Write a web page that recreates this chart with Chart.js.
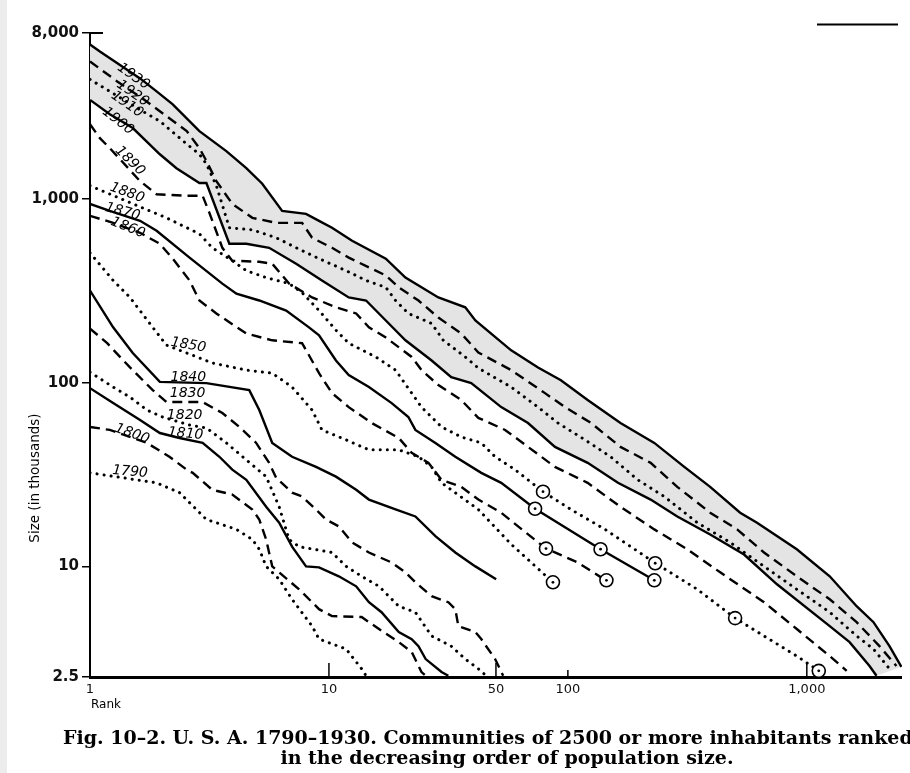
<!DOCTYPE html>
<html><head><meta charset="utf-8">
<script src="https://cdn.jsdelivr.net/npm/chart.js@4.4.0/dist/chart.umd.min.js"></script>
<style>html,body{margin:0;padding:0;background:#fff;}canvas{display:block}</style>
</head><body>
<canvas id="c" width="910" height="773"></canvas>
<script>
// ---- tick labels ----
const xTickVals = [1, 10, 50, 100, 1000];
const xTickText = ['1', '10', '50', '100', '1,000'];
const yTickVals = [2.5, 10, 100, 1000, 8000];
const yTickText = ['2.5', '10', '100', '1,000', '8,000'];

// ---- series: rank (x) and size in thousands (y) ----
const rank1930 = [1,1.10,1.62,1.90,2.22,2.87,3.72,4.51,5.26,6.37,8.02,9.09,10.3,12.5,17.3,20.9,28.7,37.2,41.0,57.9,75.0,93.5,121,166,230,307,394,526,619,908,1247,1616,1901,2218,2489];
const size1930 = [6920,6340,4530,3850,3270,2340,1820,1470,1210,861,829,760,697,592,473,373,291,257,218,150,121,103,80.4,60.3,47.0,34.8,27.1,19.6,17.3,12.4,8.83,6.07,4.97,3.68,2.84];
const rank1920 = [1,1.30,1.66,1.96,2.54,2.87,3.07,3.38,3.94,4.78,6.01,7.72,8.50,10.3,12.1,17.3,19.6,23.7,28.7,35.8,42.2,57.9,80.2,97.2,125,166,222,287,394,511,662,908,1247,1616,2014,2371];
const size1920 = [5600,4360,3520,3000,2340,1890,1610,1250,940,789,741,741,615,542,479,383,330,280,226,185,146,117,87.7,73.6,60.3,44.7,36.6,27.1,19.6,15.9,11.9,8.83,6.62,4.97,3.68,2.87];
const rank1910 = [1,1.21,1.66,1.96,2.54,2.87,3.07,3.38,3.83,4.78,6.01,7.72,9.09,11.8,14.3,17.3,19.0,21.5,26.9,30.1,37.2,42.2,57.9,75.0,90.9,118,151,196,253,348,478,662,908,1247,1616,1901,2218];
const size1910 = [4470,3850,3000,2650,1990,1750,1550,1180,697,679,615,523,473,407,360,330,280,238,210,170,138,120,94.6,73.6,60.3,48.8,39.5,29.6,24.0,17.3,13.5,10.0,7.50,5.63,4.18,3.55,2.77];
const rank1900 = [1,1.21,1.51,1.96,2.30,2.87,3.07,3.83,4.51,5.62,7.29,9.35,12.1,14.3,17.3,20.9,26.9,32.5,39.4,52.6,68.1,88.3,121,162,222,287,394,546,750,1247,1510,1830,1957];
const size1900 = [3460,2890,2430,1750,1470,1220,1220,570,570,542,444,360,291,280,218,170,132,107,99.4,73.6,60.3,44.7,36.6,28.5,23.1,18.7,14.9,11.6,7.99,4.73,3.87,2.87,2.54];
const rank1890 = [1,1.10,1.21,1.62,1.90,2.54,2.96,3.16,3.58,3.94,5.11,5.79,6.81,8.50,10.7,13.0,14.7,17.3,22.2,24.4,28.7,35.8,42.2,54.6,68.1,88.3,121,166,230,316,434,662,908,1247,1468];
const size1890 = [2550,2140,1890,1250,1060,1040,1040,840,542,461,455,444,346,291,257,238,200,176,138,117,97,80.4,64.3,55.3,44.7,34.8,28.5,21.1,15.9,12.4,9.28,6.38,4.56,3.25,2.70];
const rank1880 = [1,1.66,2.09,2.54,2.87,3.25,3.94,4.51,5.46,6.81,7.72,9.09,10.7,12.1,15.7,19.0,22.2,24.4,29.6,35.8,43.4,49.6,60.1,78.7,103,143,230,348,501,662,908,1122];
const size1880 = [1180,894,789,697,646,542,461,407,373,346,309,247,193,164,138,117,87.7,73.6,57.4,50.6,47.0,39.5,33.6,25.5,20.4,15.9,10.5,7.50,5.23,4.18,3.25,2.70];
const rank1870 = [1,1.21,1.62,1.90,2.61,3.58,4.10,5.11,6.62,8.25,9.09,10.7,12.1,14.7,18.3,21.5,23.0,27.9,33.8,43.4,52.6,72.9,137,230];
const size1870 = [940,861,760,671,479,346,305,280,247,200,181,132,110,94.6,77.4,65.0,55.3,47.0,39.5,32.3,28.5,20.6,12.4,8.40];
const rank1860 = [1,1.25,1.62,1.96,2.22,2.61,2.87,3.38,4.51,5.79,7.72,8.25,9.09,10.3,12.1,15.1,19.6,22.2,26.1,29.6,35.8,42.2,52.6,61.9,81.0,110,144];
const size1860 = [809,741,654,570,473,360,280,238,185,170,164,141,112.6,87.7,73.6,60.3,50.0,41.5,36.6,29.6,27.1,23.1,19.6,16.5,12.5,10.5,8.40];
const rank1850 = [1,1.25,1.47,1.83,2.09,3.25,4.51,5.79,7.01,8.50,9.35,11.8,14.7,19.6,23.7,26.9,29.6,32.5,42.2,57.9,86.6];
const size1850 = [509,360,291,200,160,128,117,112.6,94.6,71.0,55.3,48.8,43.1,43.1,39.5,34.8,28.5,26.1,20.4,13.2,8.19];
const rank1840 = [1,1.25,1.51,1.96,3.07,4.64,5.11,5.79,7.01,8.83,10.7,13.0,14.7,19.0,23.0,27.9,33.8,41.0,50.1];
const size1840 = [317,200,145,101,99.4,91.1,71.0,47.0,39.5,34.8,30.8,26.1,23.1,20.4,18.7,14.6,11.9,10.0,8.51];
const rank1830 = [1,1.18,1.47,1.83,2.09,2.96,3.58,4.22,4.96,5.62,6.01,7.01,7.72,8.83,9.72,11.0,12.5,14.7,18.3,20.9,23.0,26.9,31.6,33.8,34.8,41.0,43.4,49.6,53.6];
const size1830 = [197,164,121,91.1,78.4,78.4,68.4,57.4,47.0,36.6,30.4,25.2,24.0,20.4,18.0,16.5,13.5,11.9,10.5,9.28,8.19,6.88,6.38,5.85,4.73,4.39,4.02,3.13,2.54];
const rank1820 = [1,1.25,1.47,1.73,2.01,2.61,3.07,3.72,4.51,5.46,6.19,6.81,7.50,10.3,11.8,13.7,16.2,19.6,23.0,26.9,32.5,37.2,42.2,45.5];
const size1820 = [114,94.6,83.4,71.0,65.0,58.8,56.7,47.0,38.0,30.8,21.1,14.0,12.8,11.9,10.0,8.83,7.79,6.07,5.63,4.18,3.68,3.13,2.77,2.54];
const rank1810 = [1,1.25,1.62,1.96,2.37,2.96,3.48,3.94,4.51,5.46,6.19,7.01,8.02,9.09,11.0,13.0,14.7,16.6,19.6,22.2,23.7,25.4,29.6,31.6];
const size1810 = [93.3,77.4,62.7,53.2,50.0,47.0,39.5,33.6,29.6,21.1,17.3,12.8,10.0,9.88,8.83,7.79,6.38,5.63,4.39,4.02,3.68,3.13,2.66,2.54];
const rank1800 = [1,1.21,1.73,2.15,2.54,2.69,3.25,3.94,4.78,5.11,5.46,5.79,6.19,7.50,9.09,10.3,13.7,16.2,19.6,22.2,24.4,25.4];
const size1800 = [57.4,55.3,47.0,39.5,33.6,32.3,26.1,24.6,20.4,18.0,14.0,10.0,9.28,7.50,5.85,5.36,5.30,4.56,3.87,3.42,2.66,2.54];
const rank1790 = [1,1.90,2.37,3.07,4.10,4.78,5.11,5.46,6.19,7.01,8.50,9.09,11.8,13.7,14.3];
const size1790 = [32.3,28.5,25.2,18.0,15.9,14.0,12.4,10.0,8.51,6.62,4.73,4.02,3.55,2.77,2.54];

// circled points
const markRank = [78.7,72.9,81.0,86.6,137,145,232,230,501,1122];
const markSize = [25.5,20.6,12.5,8.19,12.4,8.40,10.4,8.40,5.23,2.70];

// year labels written on the curves
const labelYears = ['1930','1920','1910','1900','1890','1880','1870','1860','1850','1840','1830','1820','1810','1800','1790'];
const labelRank  = [1.52,1.51,1.43,1.31,1.47,1.43,1.37,1.44,2.58,2.58,2.56,2.49,2.51,1.50,1.47];
const labelSize  = [4640,3750,3270,2650,1610,1078,850,697,160,107,87.7,66.7,52.6,52.6,32.7];
const labelAngle = [35,35,35,38,45,20,15,22,10,0,0,0,5,20,5];

const seriesYears = [1930,1920,1910,1900,1890,1880,1870,1860,1850,1840,1830,1820,1810,1800,1790];
const seriesRanks = [rank1930,rank1920,rank1910,rank1900,rank1890,rank1880,rank1870,rank1860,rank1850,rank1840,rank1830,rank1820,rank1810,rank1800,rank1790];
const seriesSizes = [size1930,size1920,size1910,size1900,size1890,size1880,size1870,size1860,size1850,size1840,size1830,size1820,size1810,size1800,size1790];

const pts = (rs, ss) => rs.map((r, i) => ({x: r, y: ss[i]}));

const datasets = [];
// shaded band between 1930 and 1900 (drawn underneath everything)
datasets.push({
  label: 'band', order: 10,
  data: pts(rank1930, size1930).concat(pts(rank1900, size1900).reverse()),
  borderWidth: 0, pointRadius: 0, backgroundColor: '#e4e4e4', fill: 'shape'
});
seriesYears.forEach((yr, i) => {
  const kind = ((1930 - yr) / 10) % 3; // 0 solid, 1 dashed, 2 dotted
  const ds = {
    label: String(yr), order: 0,
    data: pts(seriesRanks[i], seriesSizes[i]),
    borderColor: '#000', pointRadius: 0, fill: false, tension: 0
  };
  if (kind === 0) { ds.borderWidth = 2.4; }
  else if (kind === 1) { ds.borderWidth = 2.4; ds.borderDash = [10, 6]; }
  else { ds.borderWidth = 3; ds.borderDash = [0.1, 7]; ds.borderCapStyle = 'round'; }
  datasets.push(ds);
});
datasets.push({
  label: 'circles', order: -2, data: pts(markRank, markSize), showLine: false,
  pointRadius: 6.5, pointBorderWidth: 1.6, pointBorderColor: '#000', pointBackgroundColor: '#fff'
});
datasets.push({
  label: 'centres', order: -3, data: pts(markRank, markSize), showLine: false,
  pointRadius: 1.4, pointBorderWidth: 0, pointBackgroundColor: '#000'
});

const deco = {
  id: 'deco',
  beforeDraw(chart) {
    const c = chart.ctx;
    c.save();
    c.fillStyle = '#fff'; c.fillRect(0, 0, chart.width, chart.height);
    c.fillStyle = '#ececec'; c.fillRect(0, 0, 7, chart.height);
    c.restore();
  },
  afterDraw(chart) {
    const {ctx, scales: {x, y}, chartArea: a} = chart;
    ctx.save();
    ctx.strokeStyle = '#000'; ctx.fillStyle = '#000';
    // inner x ticks
    ctx.lineWidth = 1.5;
    xTickVals.forEach((v, i) => {
      if (i === 0) return;
      const px = x.getPixelForValue(v);
      const len = v === 100 ? 7 : 14;
      ctx.beginPath(); ctx.moveTo(px, a.bottom); ctx.lineTo(px, a.bottom - len); ctx.stroke();
    });
    // top tick at 8,000
    const p8 = y.getPixelForValue(8000);
    ctx.lineWidth = 2;
    ctx.beginPath(); ctx.moveTo(a.left, p8); ctx.lineTo(a.left + 13, p8); ctx.stroke();
    // stray rule at the top right of the page
    ctx.beginPath(); ctx.moveTo(817, 24.5); ctx.lineTo(898, 24.5); ctx.stroke();
    // year labels
    ctx.font = 'italic 14px "DejaVu Sans"';
    ctx.textAlign = 'center'; ctx.textBaseline = 'middle';
    labelYears.forEach((t, i) => {
      const px = x.getPixelForValue(labelRank[i]);
      const py = y.getPixelForValue(labelSize[i]);
      ctx.save(); ctx.translate(px, py); ctx.rotate(labelAngle[i] * Math.PI / 180);
      ctx.fillText(t, 0, 0); ctx.restore();
    });
    // Rank
    ctx.textAlign = 'left'; ctx.textBaseline = 'alphabetic';
    ctx.font = '12px "DejaVu Sans"';
    ctx.fillText('Rank', 91, 708);
    // y title
    ctx.save(); ctx.translate(35, 478); ctx.rotate(-Math.PI / 2);
    ctx.font = '13.5px "DejaVu Sans"'; ctx.textAlign = 'center'; ctx.textBaseline = 'middle';
    ctx.fillText('Size (in thousands)', 0, 0); ctx.restore();
    // caption
    const cap1 = 'Fig. 10\u20132. U. S. A. 1790\u20131930. Communities of 2500 or more inhabitants ranked';
    const cap2 = 'in the decreasing order of population size.';
    ctx.font = 'bold 17px "DejaVu Serif"';
    const fs = Math.min(19, 17 * 458 / ctx.measureText(cap2).width);
    ctx.font = 'bold ' + fs.toFixed(1) + 'px "DejaVu Serif"';
    ctx.textAlign = 'left'; ctx.fillText(cap1, 63, 744);
    ctx.textAlign = 'center'; ctx.fillText(cap2, 507, 764);
    ctx.restore();
  }
};

new Chart(document.getElementById('c'), {
  type: 'line',
  data: {datasets},
  options: {
    responsive: false, animation: false, devicePixelRatio: 1,
    layout: {padding: {left: 0, top: 33, right: 5, bottom: 0}},
    plugins: {legend: {display: false}, tooltip: {enabled: false}},
    elements: {point: {radius: 0}, line: {tension: 0}},
    scales: {
      x: {
        type: 'logarithmic', min: 1, max: 2500,
        afterFit(s) { s.height = 96; },
        afterBuildTicks(s) { s.ticks = xTickVals.map(v => ({value: v})); },
        ticks: {autoSkip: false, maxRotation: 0, padding: 5, color: '#111',
          font: {family: 'DejaVu Sans', size: 13},
          callback: (v, i) => xTickText[i]},
        grid: {drawOnChartArea: false, drawTicks: false},
        border: {color: '#000', width: 3}
      },
      y: {
        type: 'logarithmic', min: 2.5, max: 8000,
        afterFit(s) { s.width = 90; },
        afterBuildTicks(s) { s.ticks = yTickVals.map(v => ({value: v})); },
        ticks: {autoSkip: false, padding: 3, color: '#111',
          font: {family: 'DejaVu Sans', size: 15, weight: 'bold'},
          callback: (v, i) => yTickText[i]},
        grid: {drawOnChartArea: false, drawTicks: true, tickLength: 8, color: '#000', lineWidth: 1.5},
        border: {color: '#000', width: 2}
      }
    }
  },
  plugins: [deco]
});
</script>
</body></html>
